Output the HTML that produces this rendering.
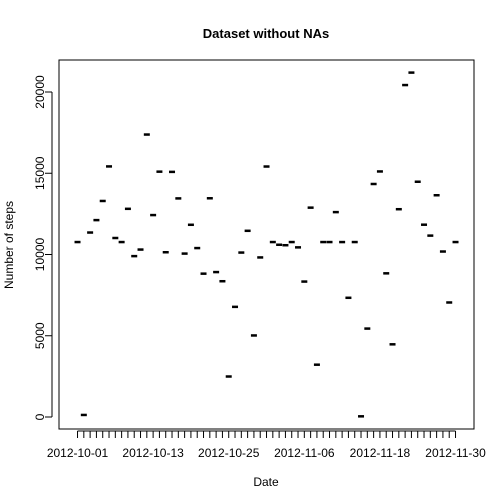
<!DOCTYPE html>
<html><head><meta charset="utf-8"><style>
body{margin:0;background:#fff}
svg{display:block;font-family:"Liberation Sans",Arial,sans-serif}
</style></head><body>
<svg id="c" width="504" height="504">
<rect x="59" y="60" width="415" height="369" fill="none" stroke="#000"/>
<text x="266" y="38" text-anchor="middle" font-size="13" font-weight="bold">Dataset without NAs</text>
<text x="266" y="486" text-anchor="middle" font-size="12">Date</text>
<text transform="translate(13,245) rotate(-90)" text-anchor="middle" font-size="12">Number of steps</text>
<g id="g"></g>
</svg>
<script>
const dates=["2012-10-01","2012-10-02","2012-10-03","2012-10-04","2012-10-05","2012-10-06","2012-10-07","2012-10-08","2012-10-09","2012-10-10","2012-10-11","2012-10-12","2012-10-13","2012-10-14","2012-10-15","2012-10-16","2012-10-17","2012-10-18","2012-10-19","2012-10-20","2012-10-21","2012-10-22","2012-10-23","2012-10-24","2012-10-25","2012-10-26","2012-10-27","2012-10-28","2012-10-29","2012-10-30","2012-10-31","2012-11-01","2012-11-02","2012-11-03","2012-11-04","2012-11-05","2012-11-06","2012-11-07","2012-11-08","2012-11-09","2012-11-10","2012-11-11","2012-11-12","2012-11-13","2012-11-14","2012-11-15","2012-11-16","2012-11-17","2012-11-18","2012-11-19","2012-11-20","2012-11-21","2012-11-22","2012-11-23","2012-11-24","2012-11-25","2012-11-26","2012-11-27","2012-11-28","2012-11-29","2012-11-30"];
const steps=[10766,126,11352,12116,13294,15420,11015,10766,12811,9900,10304,17382,12426,15098,10139,15084,13452,10056,11829,10395,8821,13460,8918,8355,2492,6778,10119,11458,5018,9819,15414,10766,10600,10571,10766,10439,8334,12883,3219,10766,10766,12608,10765,7336,10766,41,5441,14339,15110,8841,4472,12787,20427,21194,14478,11834,11162,13646,10183,7047,10766];
const yTicks=[0,5000,10000,15000,20000];
const xLabelIdx=[0,12,24,36,48,60];
const NS="http://www.w3.org/2000/svg",g=document.getElementById('g');
const X=i=>59+(i+1+1.94)*6.3;
const Y=v=>417-v*0.01625;
function mk(t,a,txt){const e=document.createElementNS(NS,t);for(const k in a)e.setAttribute(k,a[k]);if(txt!=null)e.textContent=txt;g.appendChild(e);return e;}
let e=mk('line',{x1:X(0),x2:X(dates.length-1),y1:431,y2:431,stroke:'#000'});


dates.forEach((d,i)=>{
 const t=mk('line',{x1:X(i),x2:X(i),y1:431,y2:438,stroke:'#000'});
 
 
 const b=mk('line',{x1:X(i)-3,x2:X(i)+3,y1:Y(steps[i]),y2:Y(steps[i]),stroke:'#000','stroke-width':2.5});
 
 
});
xLabelIdx.forEach(i=>{
 const t=mk('text',{x:X(i),y:457,'text-anchor':'middle','font-size':12},dates[i]);
 
 
});
e=mk('line',{x1:52,x2:52,y1:Y(0),y2:Y(20000),stroke:'#000'});


yTicks.forEach(v=>{
 const t=mk('line',{x1:45,x2:52,y1:Y(v),y2:Y(v),stroke:'#000'});
 
 
 const l=mk('text',{transform:`translate(44,${Y(v)}) rotate(-90)`,'text-anchor':'middle','font-size':12},String(v));
 
 
});
</script>
</body></html>
